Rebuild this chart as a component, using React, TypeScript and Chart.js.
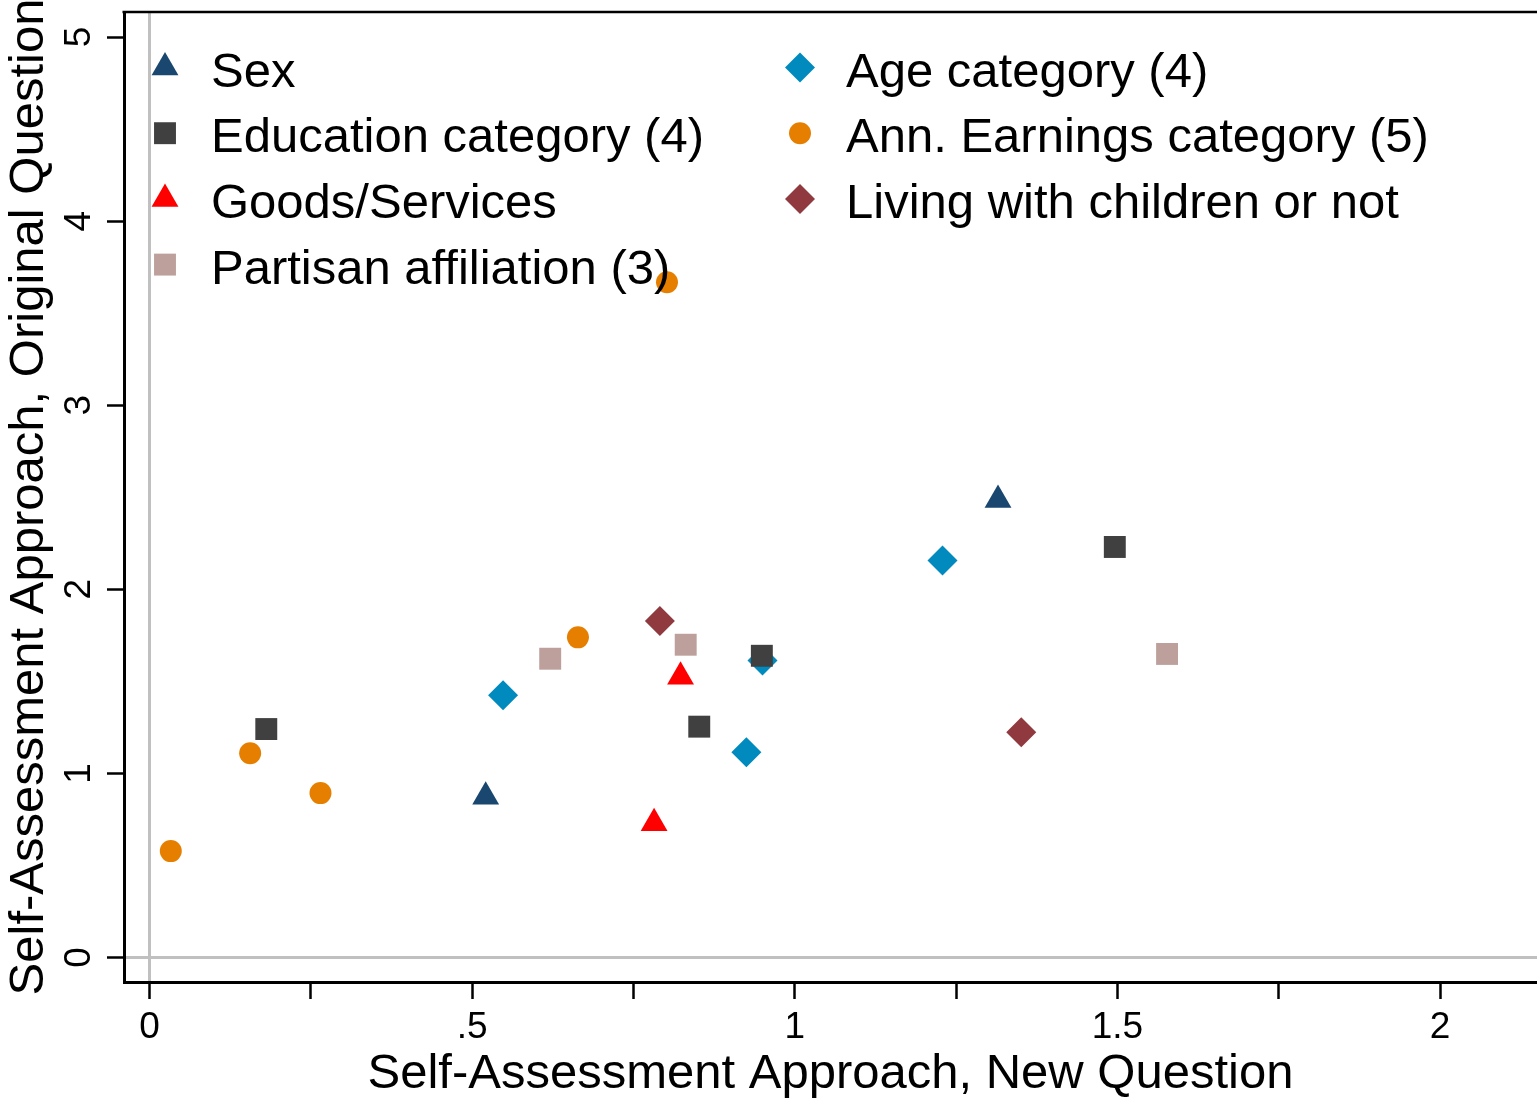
import { useEffect, useRef } from 'react';
import { Chart, registerables } from 'chart.js';
import { drawPoint } from 'chart.js/helpers';

Chart.register(...registerables);

const FONT = '"Liberation Sans", Arial, Helvetica, sans-serif';

// values
const sexX = [0.521, 1.315];
const sexY = [0.873, 2.485];
const ageX = [0.548, 0.95, 0.925, 1.229];
const ageY = [1.424, 1.614, 1.115, 2.157];
const eduX = [0.181, 0.852, 0.949, 1.496];
const eduY = [1.241, 1.254, 1.639, 2.23];
const earnX = [0.033, 0.156, 0.265, 0.664, 0.802];
const earnY = [0.578, 1.11, 0.893, 1.739, 3.668];
const goodsX = [0.823, 0.782];
const goodsY = [1.525, 0.729];
const kidsX = [0.791, 1.351];
const kidsY = [1.828, 1.223];
const partyX = [0.621, 0.831, 1.577];
const partyY = [1.623, 1.699, 1.649];

const xTickValues = [0, 0.25, 0.5, 0.75, 1, 1.25, 1.5, 1.75, 2];
const xTickLabels = ['0', '', '.5', '', '1', '', '1.5', '', '2'];
const yTickValues = [0, 1, 2, 3, 4, 5];
const yTickLabels = ['0', '1', '2', '3', '4', '5'];

const zip = (xs: number[], ys: number[]) => xs.map((x, i) => ({ x, y: ys[i] }));

const series = [
  { label: 'Sex', data: zip(sexX, sexY), color: '#1a476f', style: 'triangle', r: 15.5 },
  { label: 'Age category (4)', data: zip(ageX, ageY), color: '#018abe', style: 'rectRot', r: 15 },
  { label: 'Education category (4)', data: zip(eduX, eduY), color: '#404040', style: 'rect', r: 15.5 },
  { label: 'Ann. Earnings category (5)', data: zip(earnX, earnY), color: '#e67e00', style: 'circle', r: 11 },
  { label: 'Goods/Services', data: zip(goodsX, goodsY), color: '#ff0000', style: 'triangle', r: 15.5 },
  { label: 'Living with children or not', data: zip(kidsX, kidsY), color: '#903a40', style: 'rectRot', r: 15 },
  { label: 'Partisan affiliation (3)', data: zip(partyX, partyY), color: '#bda09b', style: 'rect', r: 15.5 },
];

// legend in two columns inside the plot, drawn over the points
const insideLegend = {
  id: 'insideLegend',
  afterDatasetsDraw(chart: any) {
    const { ctx, chartArea } = chart;
    ctx.save();
    ctx.font = `49px ${FONT}`;
    ctx.textBaseline = 'alphabetic';
    ctx.textAlign = 'left';
    chart.data.datasets.forEach((ds: any, i: number) => {
      const mx = chartArea.left + 41 + (i % 2) * 635;
      const my = chartArea.top + 55.5 + Math.floor(i / 2) * 65.7;
      ctx.fillStyle = ds.backgroundColor;
      drawPoint(ctx, { pointStyle: ds.pointStyle, radius: ds.pointRadius, rotation: 0, borderWidth: 0 }, mx, my);
      ctx.fillStyle = '#000';
      ctx.fillText(ds.label, mx + 46, my + 19);
    });
    ctx.restore();
  },
};

// top frame line and rotated y tick labels
const frameAndYLabels = {
  id: 'frameAndYLabels',
  afterDraw(chart: any) {
    const { ctx, chartArea } = chart;
    const yScale = chart.scales.y;
    ctx.save();
    ctx.strokeStyle = '#000';
    ctx.lineWidth = 2.5;
    ctx.beginPath();
    ctx.moveTo(chartArea.left - 1.5, chartArea.top);
    ctx.lineTo(chartArea.right, chartArea.top);
    ctx.stroke();

    ctx.fillStyle = '#000';
    ctx.font = `37px ${FONT}`;
    ctx.textAlign = 'center';
    ctx.textBaseline = 'alphabetic';
    yTickValues.forEach((v, i) => {
      const py = yScale.getPixelForValue(v);
      ctx.save();
      ctx.translate(90, py);
      ctx.rotate(-Math.PI / 2);
      ctx.fillText(yTickLabels[i], 0, 0);
      ctx.restore();
    });
    ctx.restore();
  },
};

export default function App() {
  const chartRef = useRef<HTMLCanvasElement>(null);
  const chartInstance = useRef<Chart | null>(null);

  useEffect(() => {
    if (!chartRef.current) return;
    if (chartInstance.current) chartInstance.current.destroy();
    const ctx = chartRef.current.getContext('2d');
    if (!ctx) return;

    Chart.defaults.font.family = FONT;
    Chart.defaults.color = '#000';

    chartInstance.current = new Chart(ctx, {
      type: 'scatter',
      data: {
        datasets: series.map((s, i) => ({
          label: s.label,
          data: s.data,
          backgroundColor: s.color,
          borderColor: s.color,
          borderWidth: 0,
          pointStyle: s.style as any,
          pointRadius: s.r,
          pointHoverRadius: s.r,
          order: series.length - i,
        })),
      },
      options: {
        responsive: false,
        animation: false,
        events: [],
        layout: { autoPadding: false, padding: { top: 12, left: 0, right: 0, bottom: 0 } },
        plugins: {
          legend: { display: false },
          tooltip: { enabled: false },
        },
        scales: {
          x: {
            type: 'linear',
            min: -0.0395,
            max: 2.1503,
            afterBuildTicks: (scale: any) => {
              scale.ticks = xTickValues.map(value => ({ value }));
            },
            afterFit: (scale: any) => {
              scale.height = 120;
            },
            grid: {
              color: (c: any) => (c.tick && c.tick.value === 0 ? '#c0c0c0' : 'rgba(0,0,0,0)'),
              lineWidth: 3,
              tickColor: '#000',
              tickLength: 17,
              tickWidth: 2.5,
            },
            border: { display: true, color: '#000', width: 3 },
            ticks: {
              autoSkip: false,
              maxRotation: 0,
              padding: 7,
              color: '#000',
              font: { size: 37, lineHeight: 1.2 },
              callback: (_v: any, i: number) => xTickLabels[i],
            },
            title: {
              display: true,
              text: 'Self-Assessment Approach, New Question',
              color: '#000',
              font: { size: 49, lineHeight: 1 },
              padding: { top: 0, bottom: 3 },
            },
          },
          y: {
            type: 'linear',
            min: -0.133,
            max: 5.136,
            afterBuildTicks: (scale: any) => {
              scale.ticks = yTickValues.map(value => ({ value }));
            },
            afterFit: (scale: any) => {
              scale.width = 124;
            },
            grid: {
              color: (c: any) => (c.tick && c.tick.value === 0 ? '#c0c0c0' : 'rgba(0,0,0,0)'),
              lineWidth: 3,
              tickColor: '#000',
              tickLength: 17,
              tickWidth: 2.5,
            },
            border: { display: true, color: '#000', width: 3 },
            ticks: { display: false },
            title: {
              display: true,
              text: 'Self-Assessment Approach, Original Question',
              color: '#000',
              font: { size: 49, lineHeight: 1 },
              padding: { top: 5, bottom: 0 },
            },
          },
        },
      },
      plugins: [insideLegend, frameAndYLabels],
    });

    return () => {
      if (chartInstance.current) {
        chartInstance.current.destroy();
        chartInstance.current = null;
      }
    };
  }, []);

  return (
    <div style={{ position: 'absolute', left: 0, top: 0, width: 1537, height: 1102, background: '#fff' }}>
      <canvas ref={chartRef} width={1537} height={1102} style={{ display: 'block', width: 1537, height: 1102 }} />
    </div>
  );
}
